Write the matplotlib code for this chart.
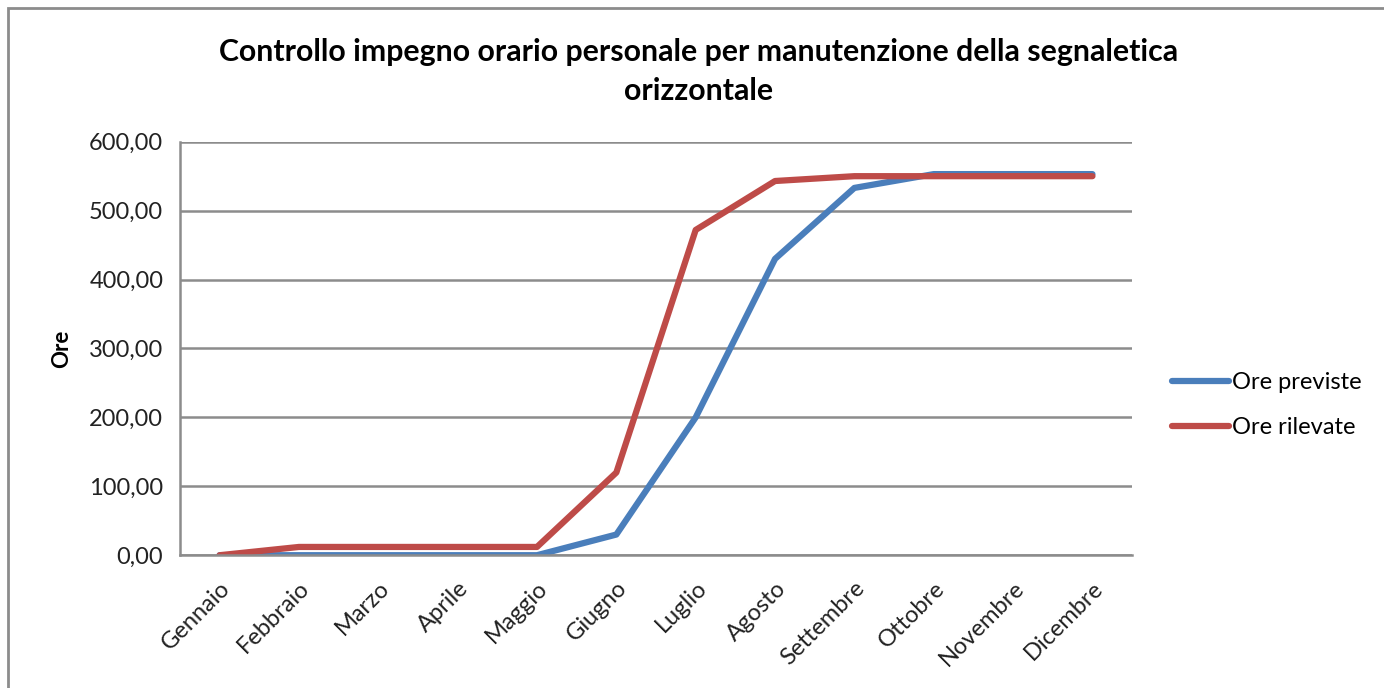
import matplotlib.pyplot as plt
from matplotlib.patches import Rectangle
from matplotlib.ticker import FuncFormatter

mesi = ['Gennaio', 'Febbraio', 'Marzo', 'Aprile', 'Maggio', 'Giugno',
        'Luglio', 'Agosto', 'Settembre', 'Ottobre', 'Novembre', 'Dicembre']
ore_previste = [0, 0, 0, 0, 0, 30, 200, 430, 533, 553, 553, 553]
ore_rilevate = [0, 12, 12, 12, 12, 120, 472, 543, 550, 550, 550, 550]

plt.rcParams['font.family'] = ['Lato', 'DejaVu Sans']

fig = plt.figure(figsize=(13.84, 6.88), dpi=100)
# cornice del grafico
fig.patches.append(Rectangle((8 / 1384, -0.1), 1.2, 1 - 8 / 688 + 0.1,
                             transform=fig.transFigure, fill=False,
                             edgecolor='#8c8c8c', linewidth=2))

ax = fig.add_axes([0.130, 0.193, 0.688, 0.601])
x = range(len(mesi))
ax.plot(x, ore_previste, color='#4a7ebb', linewidth=4.5, label='Ore previste',
        solid_capstyle='round')
ax.plot(x, ore_rilevate, color='#be4b48', linewidth=4.5, label='Ore rilevate',
        solid_capstyle='round')

ax.set_xlim(-0.5, 11.5)
ax.set_ylim(0, 600)
ax.set_yticks(range(0, 601, 100))
ax.yaxis.set_major_formatter(FuncFormatter(lambda v, p: f'{v:.2f}'.replace('.', ',')))
ax.set_xticks(list(x))
ax.set_xticklabels(mesi, rotation=45, ha='right', rotation_mode='anchor')
ax.tick_params(axis='both', length=0, labelsize=17, colors='#222222')
ax.tick_params(axis='y', pad=12)
ax.tick_params(axis='x', pad=16)

ax.grid(axis='y', color='#8c8c8c', linewidth=1.8)
ax.set_axisbelow(True)
for s in ['top', 'right']:
    ax.spines[s].set_visible(False)
for s in ['left', 'bottom']:
    ax.spines[s].set_color('#8c8c8c')
    ax.spines[s].set_linewidth(1.8)

ax.set_ylabel('Ore', fontsize=16, fontweight='bold', labelpad=12)
fig.text(0.505, 0.896, 'Controllo impegno orario personale per manutenzione della segnaletica\norizzontale',
         ha='center', va='center', fontsize=21.8, fontweight='bold', linespacing=1.45)

ax.legend(loc='center left', bbox_to_anchor=(1.042, 0.363), frameon=False,
          fontsize=17, handlelength=2.4, handletextpad=0.15, labelspacing=1.0,
          borderpad=0, borderaxespad=0)

fig.savefig('out.png', dpi=100, facecolor='white')
